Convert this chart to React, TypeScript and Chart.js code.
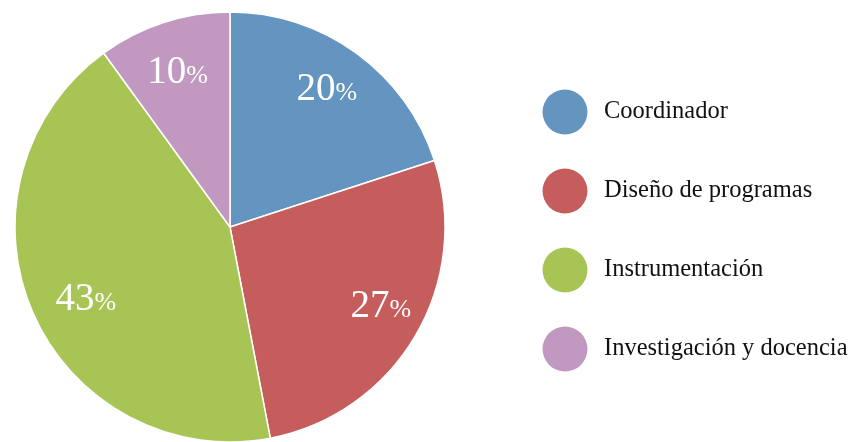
import React, { useEffect, useRef } from "react";
import { Chart, registerables } from "chart.js";

Chart.register(...registerables);

const categories = ["Coordinador", "Diseño de programas", "Instrumentación", "Investigación y docencia"];
const values = [20, 27, 43, 10];
const colors = ["#6495C1", "#C55D5C", "#A8C454", "#C198C0"];

const FONT = "'Liberation Serif', 'Times New Roman', serif";

const pctLabels = {
  id: "pctLabels",
  afterDatasetsDraw(chart: any) {
    const ctx = chart.ctx;
    const meta = chart.getDatasetMeta(0);
    const data = chart.data.datasets[0].data as number[];
    ctx.save();
    ctx.fillStyle = "#ffffff";
    ctx.textBaseline = "alphabetic";
    ctx.textAlign = "left";
    meta.data.forEach((arc: any, i: number) => {
      const p = arc.getProps(["x", "y", "startAngle", "endAngle", "outerRadius"], true);
      const mid = (p.startAngle + p.endAngle) / 2 - 0.04;
      const d = p.outerRadius * 0.77;
      const cx = p.x + Math.cos(mid) * d + 5;
      const cy = p.y + Math.sin(mid) * d;
      const num = String(data[i]);
      ctx.font = `39px ${FONT}`;
      const wNum = ctx.measureText(num).width;
      ctx.font = `26px ${FONT}`;
      const wPct = ctx.measureText("%").width;
      const total = wNum + wPct;
      const x0 = cx - total / 2;
      const base = cy + 11;
      ctx.font = `39px ${FONT}`;
      ctx.fillText(num, x0, base);
      ctx.font = `26px ${FONT}`;
      ctx.fillText("%", x0 + wNum, base);
    });
    ctx.restore();
  },
};

const sideLegend = {
  id: "sideLegend",
  afterDraw(chart: any) {
    const ctx = chart.ctx;
    const labels = chart.data.labels as string[];
    const bg = chart.data.datasets[0].backgroundColor as string[];
    const cxCircle = 565;
    const top = 112;
    const step = 79;
    ctx.save();
    labels.forEach((lab, i) => {
      const y = top + i * step;
      ctx.beginPath();
      ctx.arc(cxCircle, y, 22.5, 0, Math.PI * 2);
      ctx.fillStyle = bg[i];
      ctx.fill();
      ctx.fillStyle = "#111111";
      ctx.font = `24.5px ${FONT}`;
      ctx.textBaseline = "middle";
      ctx.textAlign = "left";
      ctx.fillText(lab, 604, y);
    });
    ctx.restore();
  },
};

export default function App() {
  const ref = useRef<HTMLCanvasElement | null>(null);
  useEffect(() => {
    if (!ref.current) return;
    const chart = new Chart(ref.current, {
      type: "pie",
      data: {
        labels: categories,
        datasets: [
          {
            data: values,
            backgroundColor: colors,
            borderColor: "#ffffff",
            borderWidth: 1.5,
            radius: 215,
          },
        ],
      },
      options: {
        responsive: false,
        animation: false,
        layout: { padding: { left: 14, right: 410, top: 12, bottom: 0 } },
        plugins: {
          legend: { display: false },
          tooltip: { enabled: false },
        },
      },
      plugins: [pctLabels, sideLegend],
    });
    return () => chart.destroy();
  }, []);
  return (
    <div style={{ position: "fixed", left: 0, top: 0, width: 856, height: 442, background: "#ffffff" }}>
      <canvas ref={ref} width={856} height={442} />
    </div>
  );
}
